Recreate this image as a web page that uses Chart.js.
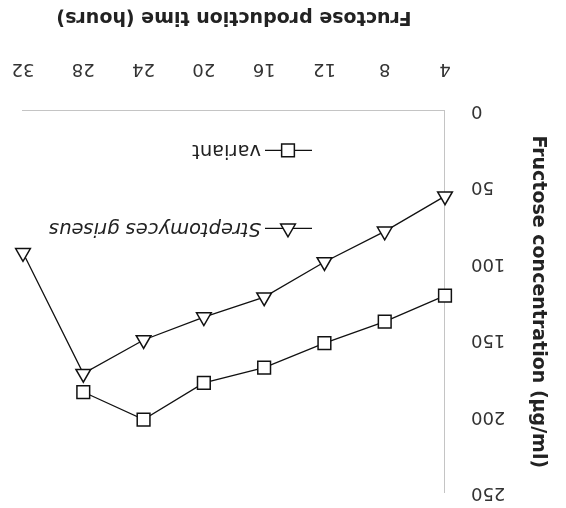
<!DOCTYPE html>
<html>
<head>
<meta charset="utf-8">
<script src="https://cdn.jsdelivr.net/npm/chart.js@4/dist/chart.umd.min.js"></script>
<style>
  html, body { margin: 0; padding: 0; background: #fff; }
  /* the source figure is printed upside down */
  #wrap { width: 566px; height: 508px; transform: rotate(180deg); }
  canvas { display: block; }
</style>
</head>
<body>
<div id="wrap"><canvas id="chart" width="566" height="508"></canvas></div>
<script>
// values
const hours = [4, 8, 12, 16, 20, 24, 28, 32];
const griseusValues = [56, 79, 99, 122, 135, 150, 172, 93];
const variantValues = [121, 138, 152, 168, 178, 202, 184];
const xTicks = [4, 8, 12, 16, 20, 24, 28, 32];
const yTicks = [0, 50, 100, 150, 200, 250];
const seriesNames = ['Streptomyces griseus', 'variant'];

const toPoints = (vals) => vals.map((v, i) => ({x: hours[i], y: v}));

const tickFont = {family: 'DejaVu Sans', size: 18};
const titleFont = {family: 'DejaVu Sans', size: 19, weight: 'bold'};

function drawMarker(ctx, style, x, y, r) {
  ctx.beginPath();
  if (style === 'triangle') {
    ctx.moveTo(x, y - r);
    ctx.lineTo(x + r * Math.sqrt(3) / 2, y + r / 2);
    ctx.lineTo(x - r * Math.sqrt(3) / 2, y + r / 2);
    ctx.closePath();
  } else {
    const s = r * Math.SQRT1_2;
    ctx.rect(x - s, y - s, 2 * s, 2 * s);
  }
  ctx.fill();
  ctx.stroke();
}

// legend sits inside the plot, like in the figure
const insideLegend = {
  id: 'insideLegend',
  afterDatasetsDraw(chart) {
    const {ctx, chartArea, scales} = chart;
    const x0 = chartArea.left + 133;
    const rows = [
      {y: scales.y.getPixelForValue(77), style: 'triangle', r: 8.5, font: 'italic 19.5px "DejaVu Sans"'},
      {y: scales.y.getPixelForValue(26), style: 'rect', r: 9, font: '19.5px "DejaVu Sans"'}
    ];
    ctx.save();
    rows.forEach((row, i) => {
      ctx.strokeStyle = '#111';
      ctx.lineWidth = 1.3;
      ctx.beginPath();
      ctx.moveTo(x0, row.y);
      ctx.lineTo(x0 + 47, row.y);
      ctx.stroke();
      ctx.fillStyle = '#fff';
      ctx.lineWidth = 1.5;
      drawMarker(ctx, row.style, x0 + 24, row.y, row.r);
      ctx.fillStyle = '#222';
      ctx.font = row.font;
      ctx.textAlign = 'left';
      ctx.textBaseline = 'middle';
      ctx.fillText(seriesNames[i], x0 + 51, row.y);
    });
    ctx.restore();
  }
};

new Chart(document.getElementById('chart'), {
  type: 'line',
  data: {
    datasets: [{
      label: seriesNames[0],
      data: toPoints(griseusValues),
      borderColor: '#111',
      borderWidth: 1.3,
      pointStyle: 'triangle',
      pointRadius: 8.5,
      pointBorderWidth: 1.5,
      pointBackgroundColor: '#fff',
      pointBorderColor: '#111',
      tension: 0,
      fill: false,
      clip: false
    }, {
      label: seriesNames[1],
      data: toPoints(variantValues),
      borderColor: '#111',
      borderWidth: 1.3,
      pointStyle: 'rect',
      pointRadius: 9,
      pointBorderWidth: 1.5,
      pointBackgroundColor: '#fff',
      pointBorderColor: '#111',
      tension: 0,
      fill: false,
      clip: false
    }]
  },
  options: {
    responsive: false,
    devicePixelRatio: 1,
    animation: false,
    layout: {padding: {left: 0, right: 23, top: 15, bottom: 0}},
    scales: {
      x: {
        type: 'linear',
        min: 4,
        max: 32,
        afterBuildTicks: (scale) => { scale.ticks = xTicks.map(v => ({value: v})); },
        afterFit: (scale) => {
          scale.height = 110.5;
          scale.paddingLeft = 0;
          scale.paddingRight = 0;
        },
        grid: {drawOnChartArea: false, drawTicks: false},
        border: {display: true, color: '#c4c4c4', width: 1, dash: [2, 3]},
        ticks: {font: tickFont, color: '#333', padding: 31, maxRotation: 0},
        title: {
          display: true,
          text: 'Fructose production time (hours)',
          font: titleFont,
          color: '#222',
          padding: {top: 0, bottom: 6}
        }
      },
      y: {
        min: 0,
        max: 250,
        afterBuildTicks: (scale) => { scale.ticks = yTicks.map(v => ({value: v})); },
        afterFit: (scale) => {
          scale.width = 121;
          // the big label padding should not push the plot down
          scale.paddingTop = 10;
          scale.paddingBottom = 10;
        },
        grid: {drawOnChartArea: false, drawTicks: false},
        border: {display: true, color: '#c4c4c4', width: 1, dash: [2, 3]},
        ticks: {font: tickFont, color: '#333', padding: 26},
        title: {
          display: true,
          text: 'Fructose concentration (µg/ml)',
          font: titleFont,
          color: '#222',
          padding: {top: 17, bottom: 0}
        }
      }
    },
    plugins: {
      legend: {display: false},
      tooltip: {enabled: false}
    }
  },
  plugins: [insideLegend]
});
</script>
</body>
</html>
